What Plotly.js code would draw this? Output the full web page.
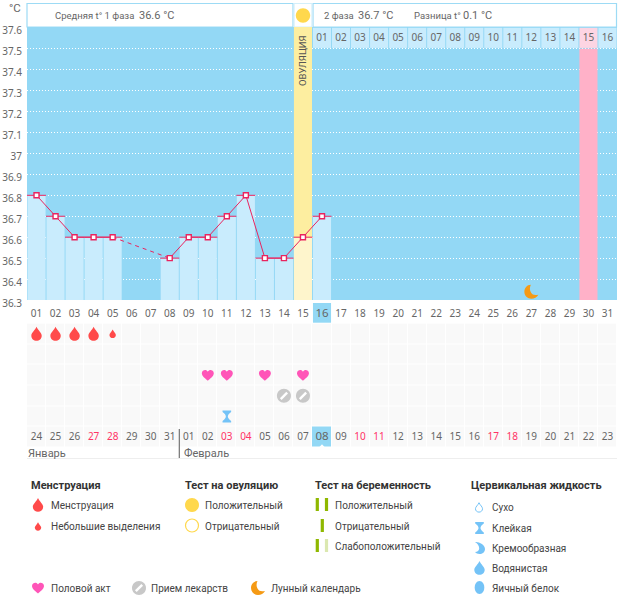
<!DOCTYPE html>
<html><head><meta charset="utf-8">
<script src="https://cdn.plot.ly/plotly-3.0.1.min.js"></script>
<style>html,body{margin:0;padding:0;background:#fff}#c{width:626px;height:595px}</style>
</head><body><div id="c"></div>
<script>
const W=626,H=595;
const days=[1,2,3,4,5,6,7,8,9,10,11,12,13,14,15,16,17,18,19,20,21,22,23,24,25,26,27,28,29,30,31];
const temps=[36.8,36.7,36.6,36.6,36.6,null,null,36.5,36.6,36.6,36.7,36.8,36.5,36.5,36.6,36.7];
const gapDays=[5,8], gapTemps=[36.6,36.5];
const yTicks=[36.3,36.4,36.5,36.6,36.7,36.8,36.9,37,37.1,37.2,37.3,37.4,37.5,37.6];
const dayLabels=['01','02','03','04','05','06','07','08','09','10','11','12','13','14','15','16','17','18','19','20','21','22','23','24','25','26','27','28','29','30','31'];
const cycleDays=[16,17,18,19,20,21,22,23,24,25,26,27,28,29,30,31];
const cycleLabels=['01','02','03','04','05','06','07','08','09','10','11','12','13','14','15','16'];
const dateLabels=['24','25','26','27','28','29','30','31','01','02','03','04','05','06','07','08','09','10','11','12','13','14','15','16','17','18','19','20','21','22','23'];
const redDates=[4,5,11,12,18,19,25,26];
const ovulationDay=15, peakDay=30, todayDay=16, monthSplit=8.5;
const heavyDays=[1,2,3,4], lightDays=[5], heartDays=[10,11,13,15], pillDays=[14,15], stickyDays=[11], moonDays=[27];
const rows={heavy:1,heart:3,pill:4,mucus:5,dates:6};
const moonLevel=36.34;

const BLUE='#93d8f5',CELL='#c9ecfd',RED='#e9245f',TXT='#666',FONT='"Noto Sans",sans-serif',LEG='Roboto,sans-serif';
const px=x=>x/W, py=y=>1-y/H;

function circ(r,cx=0,cy=0){const k=r*0.5523;return `M${cx-r},${cy} C${cx-r},${cy+k} ${cx-k},${cy+r} ${cx},${cy+r} C${cx+k},${cy+r} ${cx+r},${cy+k} ${cx+r},${cy} C${cx+r},${cy-k} ${cx+k},${cy-r} ${cx},${cy-r} C${cx-k},${cy-r} ${cx-r},${cy-k} ${cx-r},${cy} Z`;}
function drop(s){return `M0,${7*s} C${1.5*s},${3.5*s} ${5.2*s},${1*s} ${5.2*s},${-1.8*s} C${5.2*s},${-4.8*s} ${2.8*s},${-6.8*s} 0,${-6.8*s} C${-2.8*s},${-6.8*s} ${-5.2*s},${-4.8*s} ${-5.2*s},${-1.8*s} C${-5.2*s},${1*s} ${-1.5*s},${3.5*s} 0,${7*s} Z`;}
const P={
 heart:'M0,-5.5 C-2,-3.5 -6,-1 -6,2 C-6,4.5 -3.5,5.5 -2.2,5.2 C-1.2,5 -0.3,4.2 0,3.5 C0.3,4.2 1.2,5 2.2,5.2 C3.5,5.5 6,4.5 6,2 C6,-1 2,-3.5 0,-5.5 Z',
 moon:'M-0.5,7 C-4.5,7 -7,3.5 -7,0 C-7,-4 -3.8,-7 0,-7 C3,-7 5.5,-5.5 7,-3 C3.5,-3.5 1,-3.5 -0.5,-0.5 C-2,2 -1.5,5 -0.5,7 Z',
 sticky:'M-4.3,6 L4.3,6 L4.3,4.4 C2,3 1,1 1,0 C1,-1 2,-3 4.3,-4.4 L4.3,-6 L-4.3,-6 L-4.3,-4.4 C-2,-3 -1,-1 -1,0 C-1,1 -2,3 -4.3,4.4 Z',
 creamy:'M-5,6 C-1,6.5 5,3.5 5,-1 C5,-4 2.5,-6 -0.5,-6 C-2.5,-6 -4,-5.2 -5,-4 C-2.5,-4 -0.8,-2.5 -0.8,-0.2 C-0.8,2 -2.5,4.5 -5,6 Z',
 egg:'M0,6.5 C3,6.5 4.8,3.5 4.8,0 C4.8,-3.5 3,-6.5 0,-6.5 C-3,-6.5 -4.8,-3.5 -4.8,0 C-4.8,3.5 -3,6.5 0,6.5 Z',
 bar:'M-1.6,6.5 L1.6,6.5 L1.6,-6.5 L-1.6,-6.5 Z'
};
const icon=(path,xa,ya,xref,yref,fill,line)=>({type:'path',path,xsizemode:'pixel',ysizemode:'pixel',xanchor:xa,yanchor:ya,xref,yref,fillcolor:fill||'rgba(0,0,0,0)',line:line||{width:0},layer:'above'});
const pix=(path,x,y,fill,line)=>icon(path,px(x),py(y),'paper','paper',fill,line);
const pill=(xa,ya,xref,yref)=>[icon(circ(7),xa,ya,xref,yref,'#c8c8c8'),icon('M-3.2,-3.2 L3.2,3.2',xa,ya,xref,yref,null,{color:'#fff',width:2.4})];

const shapes=[];
shapes.push({type:'rect',xref:'x',yref:'y',x0:0.5,x1:31.5,y0:36.3,y1:37.604,fillcolor:BLUE,line:{width:0},layer:'below'});
shapes.push({type:'rect',xref:'x',yref:'paper',x0:todayDay-0.475,x1:todayDay+0.475,y0:py(322.7),y1:py(303),fillcolor:BLUE,line:{width:0},layer:'below'});
[[27,293,'#9ddbf5'],[313,616.5,'#9ddbf5'],[294,312,'#d3effb']].forEach(b=>shapes.push({type:'rect',xref:'paper',yref:'paper',x0:px(b[0]),x1:px(b[1]),y0:py(27),y1:py(3.5),fillcolor:'#fff',line:{color:b[2],width:1.2},layer:'below'}));
shapes.push(pix(circ(7.2),303,15.5,'#ffd84d'));
shapes.push({type:'line',xref:'x',yref:'paper',x0:monthSplit,x1:monthSplit,y0:py(458),y1:py(429),line:{color:'#555',width:1}});
shapes.push({type:'line',xref:'paper',yref:'paper',x0:px(27),x1:px(617),y0:py(458.5),y1:py(458.5),line:{color:'#eeeeee',width:1}});
heavyDays.forEach(d=>shapes.push(icon(drop(1),d,rows.heavy,'x','y2','#ff4a4a')));
lightDays.forEach(d=>shapes.push(icon(drop(0.62),d,rows.heavy,'x','y2','#ff4a4a')));
heartDays.forEach(d=>shapes.push(icon(P.heart,d,rows.heart,'x','y2','#ff55b8')));
pillDays.forEach(d=>shapes.push(...pill(d,rows.pill,'x','y2')));
stickyDays.forEach(d=>shapes.push(icon(P.sticky,d,rows.mucus,'x','y2','#74c3f7')));
moonDays.forEach(d=>shapes.push(icon(P.moon,d,moonLevel,'x','y','#f59a14')));
shapes.push(icon('M-3,-10.4 L3,-10.4 L0,-7 Z',todayDay,rows.dates,'x','y2','#fff'));
shapes.push(pix(drop(1),38,505,'#ff4a4a'),pix(drop(0.62),38,526.5,'#ff4a4a'));
shapes.push(pix(circ(7),192,505,'#ffd84d'),pix(circ(6.5),192,525.5,'#fff',{color:'#ffd84d',width:1.2}));
shapes.push(pix(P.bar,317.3,504.5,'#8fb800'),pix(P.bar,326.5,504.5,'#8fb800'),pix(P.bar,322.3,525.5,'#8fb800'),pix(P.bar,317.3,545.5,'#8fb800'),pix(P.bar,326.5,545.5,'#dbe8b0'));
shapes.push(pix(drop(0.68),479,507.5,'#fff',{color:'#74c3f7',width:1}),pix(P.sticky,479.5,528,'#74c3f7'),pix(P.creamy,480,548,'#74c3f7'),pix(drop(1),479.5,568,'#74c3f7'),pix(P.egg,479.5,587.5,'#74c3f7'));
shapes.push(pix(P.heart,38,588,'#ff55b8'));
shapes.push(...pill(px(139),py(588),'paper','paper'));
shapes.push(pix(P.moon,258,588,'#f59a14'));

const note=(text,x,y,size,color,bold)=>({text:bold?`<b>${text}</b>`:text,xref:'paper',yref:'paper',x:px(x-1),y:py(y),xanchor:'left',yanchor:'middle',showarrow:false,borderpad:0,font:{family:LEG,size,color}});
const L='#444';
const annotations=[
 note('°C',9,8,11.5,TXT),
 note('Средняя t° 1 фаза',55,15.5,9.5,TXT),note('36.6 °C',139,15,11,TXT),
 note('2 фаза',324,15.5,9.5,TXT),note('36.7 °C',358,15,11,TXT),
 note('Разница t°',414,15.5,9.5,TXT),note('0.1 °C',463,15,11,TXT),
 {text:'ОВУЛЯЦИЯ',xref:'paper',yref:'paper',x:px(303),y:py(61),xanchor:'center',yanchor:'middle',textangle:-90,showarrow:false,font:{family:LEG,size:9.5,color:'#555'}},
 note('Январь',28,453.5,11,TXT),note('Февраль',184,453.5,11,TXT),
 note('Менструация',31,485,11,'#333',true),note('Тест на овуляцию',185,485,11,'#333',true),
 note('Тест на беременность',315,485,11,'#333',true),note('Цервикальная жидкость',471,485,11,'#333',true),
 note('Менструация',51,505,10,L),note('Небольшие выделения',51,526,10,L),
 note('Положительный',205,505,10,L),note('Отрицательный',205,526,10,L),
 note('Положительный',335,505,10,L),note('Отрицательный',335,526,10,L),note('Слабоположительный',335,546,10,L),
 note('Сухо',492,507.5,10,L),note('Клейкая',492,528,10,L),note('Кремообразная',492,548,10,L),note('Водянистая',492,568,10,L),note('Яичный белок',492,588,10,L),
 note('Половой акт',51,588,10,L),note('Прием лекарств',151,588,10,L),note('Лунный календарь',271,588,10,L)
];

const cellZ=[1,2,3,4,5,6].map(r=>days.map(d=>(r===rows.dates&&d===todayDay)?1:0));
const tops=[ovulationDay,peakDay];
const traces=[
 {type:'heatmap',x:days,y:[1,2,3,4,5,6],z:cellZ,xaxis:'x',yaxis:'y2',xgap:1,ygap:1,zmin:0,zmax:1,colorscale:[[0,'#f9f9f9'],[1,BLUE]],showscale:false,hoverinfo:'skip'},
 {type:'bar',x:tops,y:[37.604-36.3,37.5-36.3],base:36.3,width:0.95,marker:{color:['#fdeea0','#ffb1c8'],opacity:1,line:{width:0}},hoverinfo:'skip'},
 {type:'bar',x:cycleDays,y:cycleDays.map(()=>0.096),base:37.504,width:0.95,marker:{color:cycleDays.map(d=>d===peakDay?'#fdd5e3':CELL),opacity:1,line:{width:0}},hoverinfo:'skip'},
 {type:'bar',x:days.slice(0,temps.length),y:temps.map(t=>t===null?null:t-36.3),base:36.3,width:0.95,marker:{color:days.slice(0,temps.length).map(d=>d===ovulationDay?'#fef5cc':CELL),opacity:1,line:{width:0}}},
 {type:'scatter',mode:'text',x:cycleDays,y:cycleDays.map(()=>37.55),text:cycleLabels,textposition:'middle center',textfont:{family:FONT,size:10,color:TXT},hoverinfo:'skip'},
 {type:'scatter',mode:'lines',x:gapDays,y:gapTemps,line:{color:RED,width:1,dash:'4px,4px'},hoverinfo:'skip'},
 {type:'scatter',mode:'lines+markers',x:days.slice(0,temps.length),y:temps,connectgaps:false,line:{color:RED,width:1},
  marker:{symbol:'square',size:5,color:'#fff',line:{color:RED,width:1.4}},
  error_x:{type:'constant',value:0.5,thickness:1,width:0,color:RED}},
 {type:'scatter',mode:'text',x:days,y:days.map(()=>rows.dates),yaxis:'y2',xaxis:'x',text:dateLabels,textposition:'middle center',
  textfont:{family:FONT,size:days.map(d=>d===todayDay?11.5:10),color:days.map(d=>redDates.includes(d)?'#ff3366':TXT)},hoverinfo:'skip'}
];
const layout={
 width:W,height:H,margin:{l:0,r:0,t:0,b:0,pad:0},paper_bgcolor:'#fff',plot_bgcolor:'rgba(0,0,0,0)',showlegend:false,barmode:'overlay',
 font:{family:FONT,size:10,color:TXT},
 xaxis:{domain:[px(27),px(617)],range:[0.5,31.5],anchor:'y',tickmode:'array',tickvals:days,
   ticktext:dayLabels.map((s,i)=>days[i]===todayDay?`<span style="font-size:11.5px">${s}</span>`:s),
   ticks:'',showgrid:false,zeroline:false,showline:false,ticklabelstandoff:6,tickfont:{family:FONT,size:10,color:TXT},tickangle:0},
 yaxis:{domain:[py(300),py(27)],range:[36.3,37.604],anchor:'x',tickmode:'array',tickvals:yTicks,ticktext:yTicks.map(String),
   ticks:'',showgrid:true,gridcolor:'#ffffff',griddash:'1px,2px',gridwidth:1,zeroline:false,showline:false,ticklabelstandoff:4,ticklabelshift:3,tickfont:{family:FONT,size:10,color:TXT}},
 yaxis2:{domain:[py(447.5),py(323.5)],range:[6.5,0.5],anchor:'x',visible:false,showgrid:false,zeroline:false},
 shapes,annotations
};
Plotly.newPlot('c',traces,layout,{displayModeBar:false,staticPlot:true});
</script></body></html>
